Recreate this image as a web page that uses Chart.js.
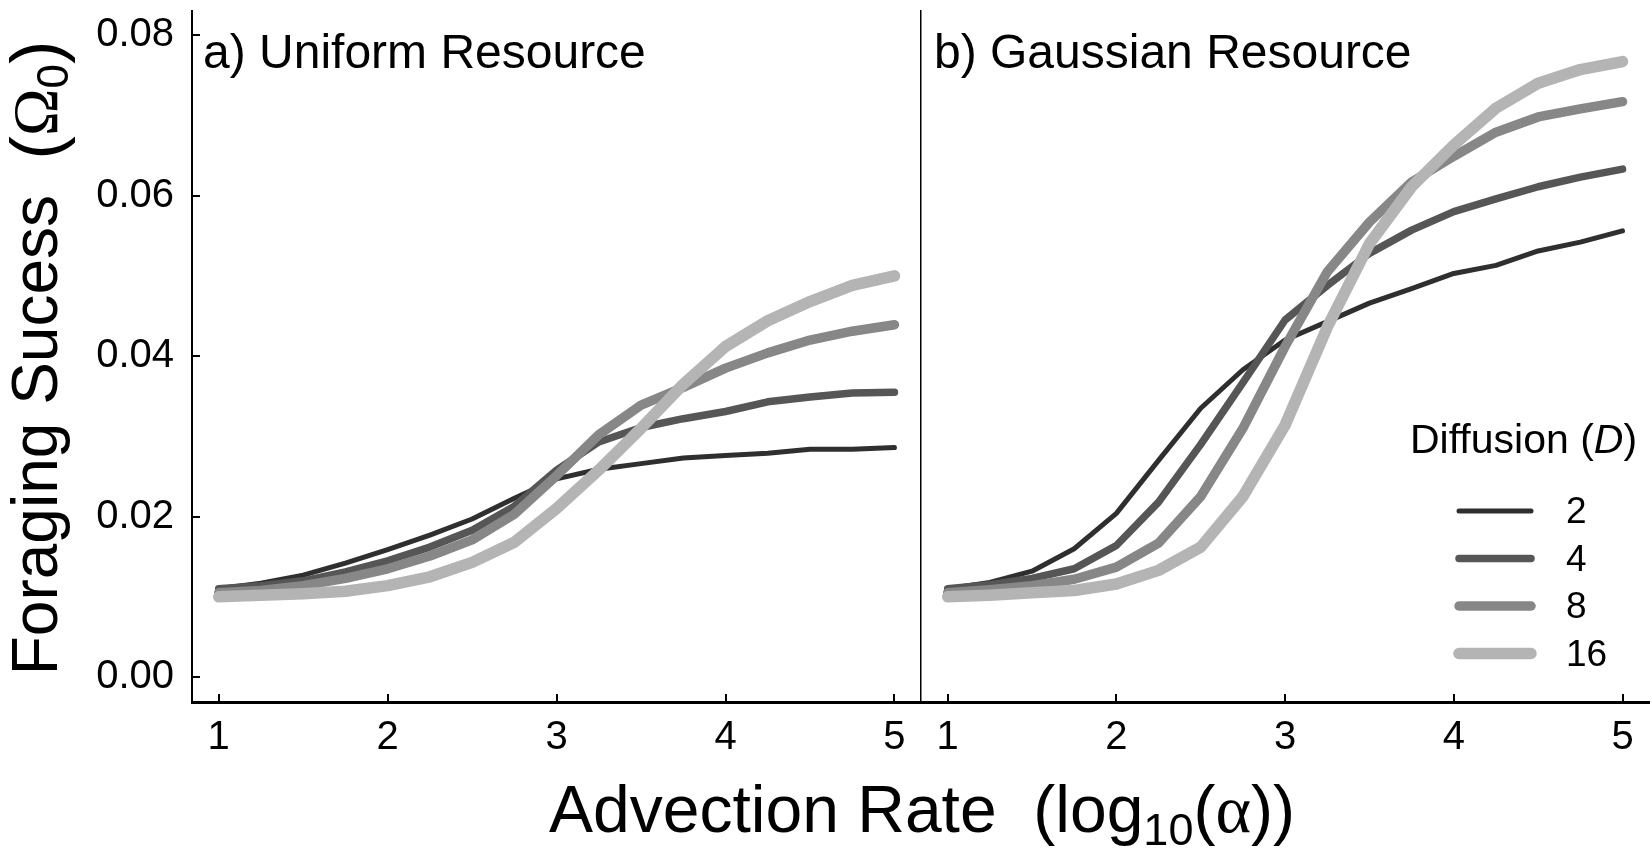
<!DOCTYPE html>
<html>
<head>
<meta charset="utf-8">
<script src="https://cdn.jsdelivr.net/npm/chart.js@4.4.1/dist/chart.umd.min.js"></script>
<style>
html,body{margin:0;padding:0;background:#fff;}
#wrap{position:relative;width:1652px;height:849px;}
#wrap canvas{position:absolute;left:0;top:0;}
</style>
</head>
<body>
<div id="wrap">
<canvas id="uniformChart" width="1652" height="849"></canvas>
<canvas id="gaussChart" width="1652" height="849"></canvas>
</div>
<script>
// advection rate, log10(alpha)
const advection = [1, 1.25, 1.5, 1.75, 2, 2.25, 2.5, 2.75, 3, 3.25, 3.5, 3.75, 4, 4.25, 4.5, 4.75, 5];
const diffusion = [2, 4, 8, 16];
const xTicks = [1, 2, 3, 4, 5];
const yTicks = [0, 0.02, 0.04, 0.06, 0.08];

// a) uniform resource
const uniformD2  = [0.0110, 0.0117, 0.0127, 0.0142, 0.0159, 0.0177, 0.0197, 0.0223, 0.0247, 0.0259, 0.0266, 0.0273, 0.0276, 0.0279, 0.0284, 0.0284, 0.0286];
const uniformD4  = [0.0110, 0.0114, 0.0120, 0.0131, 0.0145, 0.0162, 0.0183, 0.0213, 0.0258, 0.0293, 0.0311, 0.0322, 0.0331, 0.0343, 0.0349, 0.0354, 0.0355];
const uniformD8  = [0.0105, 0.0108, 0.0114, 0.0123, 0.0135, 0.0151, 0.0171, 0.0203, 0.0251, 0.0302, 0.0339, 0.0361, 0.0385, 0.0404, 0.0420, 0.0431, 0.0439];
const uniformD16 = [0.0100, 0.0102, 0.0104, 0.0107, 0.0114, 0.0125, 0.0143, 0.0168, 0.0210, 0.0258, 0.0310, 0.0365, 0.0412, 0.0444, 0.0468, 0.0488, 0.0500];

// b) gaussian resource
const gaussD2  = [0.0110, 0.0118, 0.0132, 0.0160, 0.0204, 0.0270, 0.0335, 0.0383, 0.0420, 0.0443, 0.0466, 0.0484, 0.0503, 0.0513, 0.0531, 0.0542, 0.0556];
const gaussD4  = [0.0110, 0.0115, 0.0123, 0.0135, 0.0164, 0.0218, 0.0290, 0.0367, 0.0445, 0.0488, 0.0528, 0.0557, 0.0580, 0.0596, 0.0611, 0.0623, 0.0633];
const gaussD8  = [0.0105, 0.0109, 0.0114, 0.0122, 0.0137, 0.0167, 0.0225, 0.0310, 0.0412, 0.0505, 0.0567, 0.0617, 0.0649, 0.0679, 0.0698, 0.0708, 0.0717];
const gaussD16 = [0.0100, 0.0102, 0.0105, 0.0108, 0.0116, 0.0133, 0.0162, 0.0225, 0.0314, 0.0436, 0.0540, 0.0611, 0.0663, 0.0709, 0.0740, 0.0757, 0.0767];

const lineColors = ['#2f2f2f', '#565656', '#878787', '#b4b4b4'];
const lineWidths = [5, 7.5, 9.5, 11.5];

const SANS = 'Liberation Sans, Arial, sans-serif';
const SERIF = 'Liberation Serif, Times New Roman, serif';

Chart.defaults.font.family = SANS;
Chart.defaults.color = '#000';

function makeDatasets(series){
    return series.map((vals,i)=>({
        label: String(diffusion[i]),
        data: advection.map((a,j)=>({x:a,y:vals[j]})),
        borderColor: lineColors[i],
        borderWidth: lineWidths[i],
        borderCapStyle: 'round',
        borderJoinStyle: 'round',
        pointRadius: 0,
        tension: 0,
        fill: false,
        order: series.length-i
    }));
}

// text pieces with mixed fonts (subscripts, italics)
function drawRich(ctx,parts,x,y,align){
    let w=0;
    parts.forEach(p=>{ctx.font=p.font;p.w=ctx.measureText(p.text).width;w+=p.w;});
    let cx=align==='center'?x-w/2:x;
    ctx.textAlign='left';
    ctx.textBaseline='alphabetic';
    parts.forEach(p=>{ctx.font=p.font;ctx.fillText(p.text,cx,y+(p.dy||0));cx+=p.w;});
}

// tick marks pointing into the plot
const innerTicks={
    id:'innerTicks',
    afterDraw(chart,args,opts){
        const ctx=chart.ctx, area=chart.chartArea;
        ctx.save();
        ctx.strokeStyle='#000';
        ctx.lineWidth=2;
        const xs=chart.scales.x;
        xs.ticks.forEach(t=>{
            const px=Math.round(xs.getPixelForValue(t.value));
            ctx.beginPath();
            ctx.moveTo(px,area.bottom);
            ctx.lineTo(px,area.bottom-opts.len);
            ctx.stroke();
        });
        if(opts.yTicks){
            const ys=chart.scales.y;
            ys.ticks.forEach(t=>{
                const py=Math.round(ys.getPixelForValue(t.value));
                ctx.beginPath();
                ctx.moveTo(area.left,py);
                ctx.lineTo(area.left+opts.len,py);
                ctx.stroke();
            });
        }
        ctx.restore();
    }
};

const panelLabel={
    id:'panelLabel',
    afterDraw(chart,args,opts){
        const ctx=chart.ctx;
        ctx.save();
        ctx.fillStyle='#000';
        ctx.font='48px '+SANS;
        ctx.textAlign='left';
        ctx.textBaseline='alphabetic';
        ctx.fillText(opts.text,chart.chartArea.left+opts.dx,68);
        ctx.restore();
    }
};

const axisTitles={
    id:'axisTitles',
    afterDraw(chart){
        const ctx=chart.ctx;
        ctx.save();
        ctx.fillStyle='#000';
        drawRich(ctx,[
            {text:'Advection Rate  (log',font:'66px '+SANS},
            {text:'10',font:'45px '+SANS,dy:13},
            {text:'(',font:'66px '+SANS},
            {text:'α',font:'68px '+SERIF},
            {text:'))',font:'66px '+SANS}
        ],922,832,'center');
        ctx.translate(57,358);
        ctx.rotate(-Math.PI/2);
        drawRich(ctx,[
            {text:'Foraging Sucess  ',font:'64px '+SANS},
            {text:'(',font:'70px '+SANS,dy:3},
            {text:'Ω',font:'64px '+SERIF},
            {text:'0',font:'44px '+SANS,dy:11},
            {text:')',font:'70px '+SANS,dy:3}
        ],0,0,'center');
        ctx.restore();
    }
};

const diffusionLegend={
    id:'diffusionLegend',
    afterDraw(chart,args,opts){
        const ctx=chart.ctx;
        ctx.save();
        ctx.fillStyle='#000';
        drawRich(ctx,[
            {text:'Diffusion (',font:'41px '+SANS},
            {text:'D',font:'italic 41px '+SANS},
            {text:')',font:'41px '+SANS}
        ],opts.x,453,'left');
        const sets=chart.data.datasets;
        sets.forEach((ds,i)=>{
            const y=opts.y0+i*opts.step;
            ctx.strokeStyle=ds.borderColor;
            ctx.lineWidth=ds.borderWidth;
            ctx.lineCap='round';
            ctx.beginPath();
            ctx.moveTo(opts.lineX0,y);
            ctx.lineTo(opts.lineX1,y);
            ctx.stroke();
            ctx.font='37px '+SANS;
            ctx.textAlign='left';
            ctx.textBaseline='middle';
            ctx.fillText(ds.label,opts.textX,y+2);
        });
        ctx.restore();
    }
};

function makeConfig(series,isLeft,label){
    return {
        type:'line',
        data:{datasets:makeDatasets(series)},
        options:{
            responsive:false,
            animation:false,
            events:[],
            layout:{padding:{left:0,right:isLeft?731:3,top:11,bottom:0}},
            plugins:{
                legend:{display:false},
                tooltip:{enabled:false},
                innerTicks:{len:8,yTicks:isLeft},
                panelLabel:{text:label,dx:isLeft?11:13},
                diffusionLegend:{x:1410,y0:511,step:47.5,lineX0:1459,lineX1:1531,textX:1566}
            },
            scales:{
                x:{
                    type:'linear',
                    position:'bottom',
                    min:0.842,
                    max:5.157,
                    afterFit:s=>{s.height=147;s.paddingLeft=0;s.paddingRight=0;},
                    afterBuildTicks:s=>{s.ticks=xTicks.map(v=>({value:v}));},
                    ticks:{font:{size:40},color:'#000',padding:12,maxRotation:0},
                    grid:{display:false,drawTicks:false},
                    border:{display:true,color:'#000',width:3}
                },
                y:{
                    type:'linear',
                    min:-0.0031,
                    max:0.0830,
                    afterFit:s=>{s.width=isLeft?192:921;s.paddingTop=0;s.paddingBottom=0;},
                    afterBuildTicks:s=>{s.ticks=yTicks.map(v=>({value:v}));},
                    ticks:{display:isLeft,font:{size:40},color:'#000',padding:18,callback:v=>v.toFixed(2)},
                    grid:{display:false,drawTicks:false},
                    border:{display:true,color:'#000',width:isLeft?2:1.5}
                }
            }
        },
        plugins:isLeft?[innerTicks,panelLabel,axisTitles]:[innerTicks,panelLabel,diffusionLegend]
    };
}

new Chart(document.getElementById('uniformChart'),
    makeConfig([uniformD2,uniformD4,uniformD8,uniformD16],true,'a) Uniform Resource'));
new Chart(document.getElementById('gaussChart'),
    makeConfig([gaussD2,gaussD4,gaussD8,gaussD16],false,'b) Gaussian Resource'));
</script>
</body>
</html>
